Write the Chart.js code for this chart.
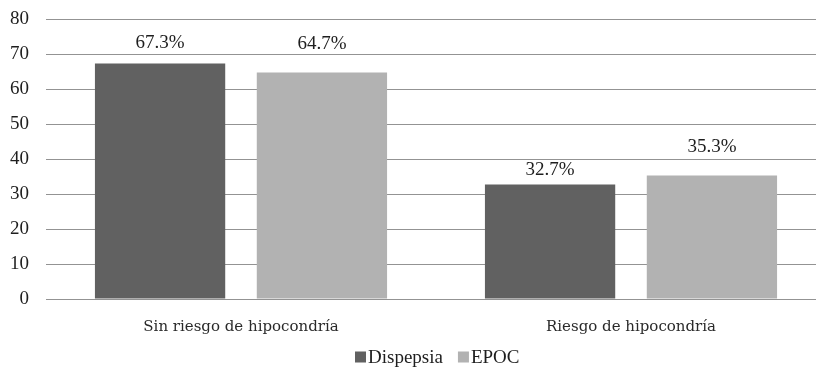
<!DOCTYPE html>
<html>
<head>
<meta charset="utf-8">
<script src="https://cdn.jsdelivr.net/npm/chart.js@4/dist/chart.umd.min.js"></script>
<style>
  html, body { margin: 0; padding: 0; background: #ffffff; overflow: hidden; }
  #wrap { width: 826px; height: 368px; }
</style>
</head>
<body>
<div id="wrap"><canvas id="chart" width="826" height="368"></canvas></div>
<script>
// Categories and series
const categories = ['Sin riesgo de hipocondría', 'Riesgo de hipocondría'];
const dispepsia = [67.3, 32.7];
const epoc = [64.7, 35.3];
const yTicks = [0, 10, 20, 30, 40, 50, 60, 70, 80];

const SERIF = '"Liberation Serif", "Times New Roman", serif';

// Percent labels above each bar, computed from the bar's own value
const valueLabels = {
  id: 'valueLabels',
  afterDatasetsDraw(chart, args, opts) {
    const ctx = chart.ctx;
    ctx.save();
    ctx.font = '19px ' + SERIF;
    ctx.fillStyle = '#1e1e1e';
    ctx.textAlign = 'center';
    ctx.textBaseline = 'alphabetic';
    chart.data.datasets.forEach((ds, di) => {
      const meta = chart.getDatasetMeta(di);
      meta.data.forEach((bar, i) => {
        const v = ds.data[i];
        const lift = opts.lift[di][i];
        ctx.fillText(v.toFixed(1) + '%', bar.x, bar.y - lift);
      });
    });
    ctx.restore();
  }
};

// Legend row with small squares right next to the text
const squareLegend = {
  id: 'squareLegend',
  afterDraw(chart, args, opts) {
    const ctx = chart.ctx;
    ctx.save();
    ctx.font = opts.fontSize + 'px ' + SERIF;
    ctx.textBaseline = 'middle';
    ctx.textAlign = 'left';
    let x = opts.x;
    chart.data.datasets.forEach((ds) => {
      ctx.fillStyle = ds.backgroundColor;
      ctx.fillRect(x, opts.y - opts.box / 2, opts.box, opts.box);
      x += opts.box + opts.textGap;
      ctx.fillStyle = '#1e1e1e';
      ctx.fillText(ds.label, x, opts.y + 1);
      x += ctx.measureText(ds.label).width + opts.itemGap;
    });
    ctx.restore();
  }
};

new Chart(document.getElementById('chart'), {
  type: 'bar',
  data: {
    labels: categories,
    datasets: [
      { label: 'Dispepsia', data: dispepsia, backgroundColor: '#616161', borderWidth: 0 },
      { label: 'EPOC', data: epoc, backgroundColor: '#b2b2b2', borderWidth: 0 }
    ]
  },
  options: {
    responsive: false,
    devicePixelRatio: 1,
    animation: false,
    categoryPercentage: 0.83,
    barPercentage: 0.805,
    layout: { padding: { top: 0, right: 0, bottom: 0, left: 0 } },
    plugins: {
      legend: { display: false },
      tooltip: { enabled: false },
      valueLabels: { lift: [[15, 10], [24, 23]] },
      squareLegend: { x: 355, y: 357, box: 11, textGap: 2, itemGap: 15, fontSize: 19 }
    },
    scales: {
      x: {
        grid: { display: false, drawTicks: false },
        border: { display: false },
        ticks: {
          padding: 19,
          color: '#2a2a2a',
          font: { family: '"DejaVu Serif", serif', size: 15 }
        },
        afterFit(scale) { scale.height = 69; }
      },
      y: {
        min: 0,
        max: 80,
        afterBuildTicks(scale) { scale.ticks = yTicks.map(v => ({ value: v })); },
        grid: { color: '#939393', lineWidth: 1, drawTicks: false },
        border: { display: false },
        ticks: {
          padding: 17,
          color: '#1e1e1e',
          font: { family: SERIF, size: 19 }
        },
        afterFit(scale) {
          scale.width = 46;
          scale.paddingTop = 19;
        }
      }
    }
  },
  plugins: [valueLabels, squareLegend]
});
</script>
</body>
</html>
